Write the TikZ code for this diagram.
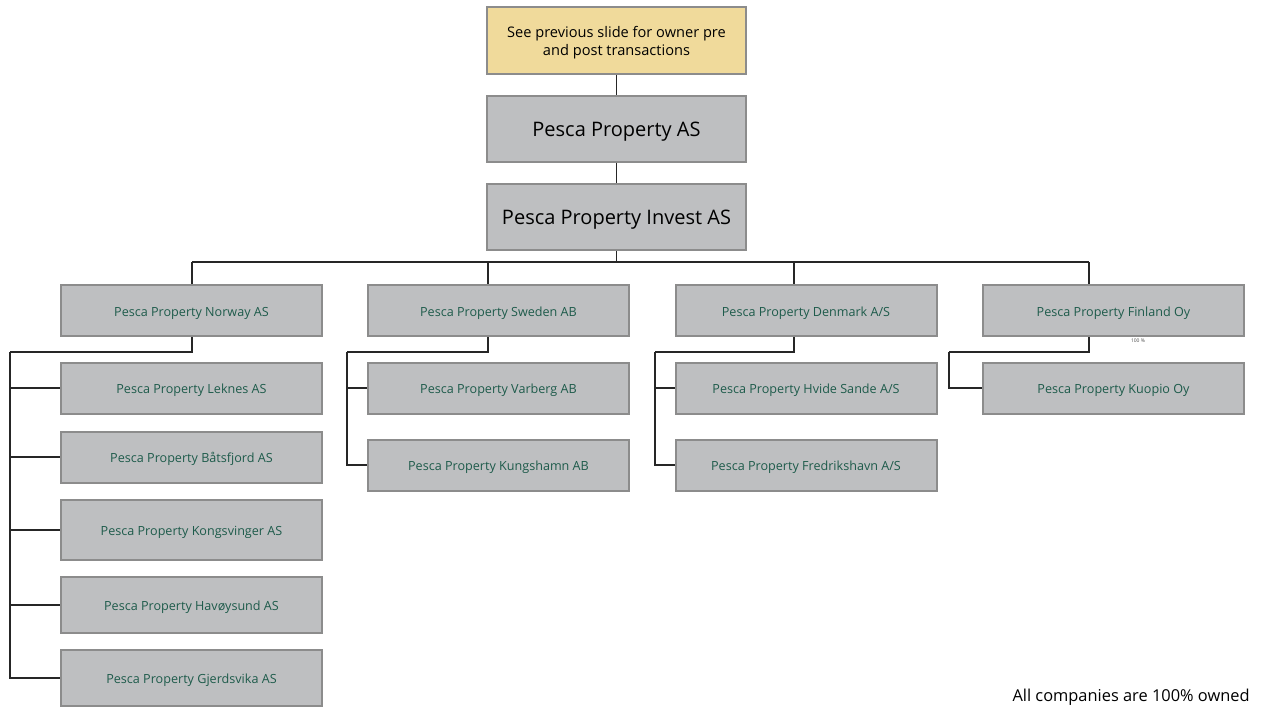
\documentclass[tikz,border=0pt]{standalone}
\usepackage{fontspec}
\setmainfont{Open Sans}
\usetikzlibrary{positioning, calc}
\definecolor{boxgray}{HTML}{BEBFC1}
\definecolor{boxedge}{HTML}{8C8C8C}
\definecolor{notefill}{HTML}{F0DA9B}
\definecolor{subtext}{HTML}{1E5B4B}

\begin{document}
\begin{tikzpicture}[
  x=0.5pt, y=-0.5pt,
  notebox/.style={
    draw=boxedge, fill=notefill, line width=1pt,
    minimum width=129.5pt, minimum height=33.5pt,
    align=center, font=\fontsize{7.3}{9}\selectfont, inner sep=0pt
  },
  topbox/.style={
    draw=boxedge, fill=boxgray, line width=1pt,
    minimum width=129.5pt, minimum height=33pt,
    font=\fontsize{10}{12}\selectfont, inner sep=0pt,
    text height=0.88em, text depth=0.1em
  },
  subbox/.style={
    draw=boxedge, fill=boxgray, line width=1pt,
    minimum width=130.5pt, minimum height=25.5pt,
    font=\fontsize{6.3}{7}\selectfont, text=subtext, inner sep=0pt,
    text height=0.8em, text depth=0.22em
  },
  link/.style={draw=black!85, line width=0.55pt},
]
\useasboundingbox (0,0) rectangle (1265,708);

% top of the tree
\node[notebox] (note)   at (616.5, 40.5)
  {\raisebox{-1pt}[\height][\depth]{\begin{tabular}{@{}c@{}}See previous slide for owner pre\\and post transactions\end{tabular}}};
\node[topbox]  (parent) at (616.5, 128.5) {Pesca Property AS};
\node[topbox]  (invest) at (616.5, 217)   {Pesca Property Invest AS};
\draw[link] (note) -- (parent);
\draw[link] (parent) -- (invest);

% country companies
\node[subbox] (norway)  at (191.5, 310.5)  {Pesca Property Norway AS};
\node[subbox] (sweden)  at (498.5, 310.5)  {Pesca Property Sweden AB};
\node[subbox] (denmark) at (806, 310.5)    {Pesca Property Denmark A/S};
\node[subbox] (finland) at (1113.5, 310.5) {Pesca Property Finland Oy};
\coordinate (bus)    at (616.5, 262);
\coordinate (nodrop) at (192, 262);
\coordinate (sedrop) at (488, 262);
\coordinate (dkdrop) at (794, 262);
\coordinate (fidrop) at (1089, 262);
\draw[link] (invest) -- (bus);
\draw[link] (nodrop) -- (fidrop);

% rails for the subsidiaries
\coordinate (norail) at (10, 352);
\coordinate (serail) at (347, 352);
\coordinate (dkrail) at (655, 352);
\coordinate (firail) at (949, 352);
\foreach \c/\d/\r in {norway/nodrop/norail, sweden/sedrop/serail,
                      denmark/dkdrop/dkrail, finland/fidrop/firail} {
  \draw[link] (\d) -- (\c.north -| \d);
  \draw[link] (\c.south -| \d) |- (\r);
}

% Norway
\node[subbox] (leknes)      at (191.5, 388) {Pesca Property Leknes AS};
\node[subbox] (batsfjord)   at (191.5, 457) {Pesca Property Båtsfjord AS};
\node[subbox, minimum height=30pt] (kongsvinger) at (191.5, 530) {Pesca Property Kongsvinger AS};
\node[subbox, minimum height=28pt] (havoysund)   at (191.5, 605) {Pesca Property Havøysund AS};
\node[subbox, minimum height=28pt] (gjerdsvika)  at (191.5, 678) {Pesca Property Gjerdsvika AS};
\foreach \c in {leknes,batsfjord,kongsvinger,havoysund,gjerdsvika} {
  \draw[link] (norail) |- (\c.west);
}

% Sweden
\node[subbox] (varberg)   at (498.5, 388) {Pesca Property Varberg AB};
\node[subbox] (kungshamn) at (498.5, 465) {Pesca Property Kungshamn AB};
\foreach \c in {varberg,kungshamn} {
  \draw[link] (serail) |- (\c.west);
}

% Denmark
\node[subbox] (hvide)        at (806, 388) {Pesca Property Hvide Sande A/S};
\node[subbox] (fredrikshavn) at (806, 465) {Pesca Property Fredrikshavn A/S};
\foreach \c in {hvide,fredrikshavn} {
  \draw[link] (dkrail) |- (\c.west);
}

% Finland
\node[subbox] (kuopio) at (1113.5, 388) {Pesca Property Kuopio Oy};
\draw[link] (firail) |- (kuopio.west);
\node[font=\fontsize{2.5}{3}\selectfont, text=black!70] (pct) at (1138, 341) {100 \%};

\node[anchor=east, inner sep=0pt, font=\fontsize{8.2}{10}\selectfont] (owned) at (1250, 697) {All companies are 100\% owned};
\end{tikzpicture}
\end{document}
